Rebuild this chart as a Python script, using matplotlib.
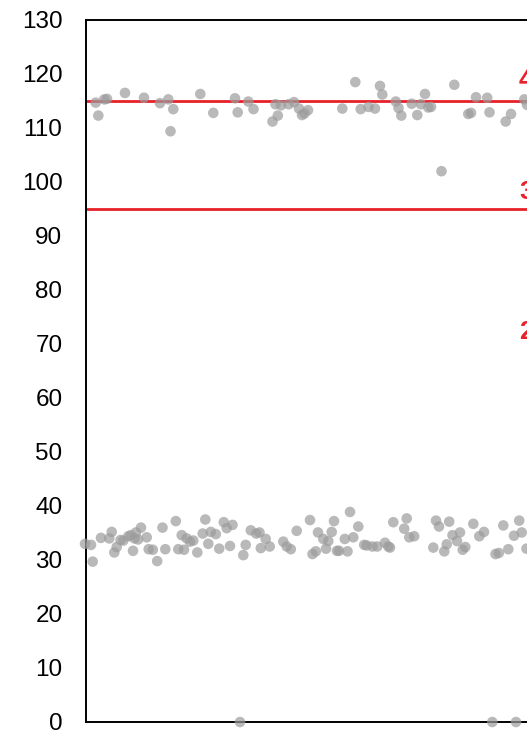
import matplotlib
matplotlib.use('Agg')
import matplotlib.pyplot as plt
import numpy as np

# upper group
upper_x = [9.7, 12.3, 18.3, 21, 39, 58, 74, 82.3, 87.3, 84.5, 114.3, 127.3, 149, 151.7,
           162.3, 167.5, 186.5, 189.5, 191.8, 195, 202.7, 208, 213, 216, 218.5, 222,
           256.3, 269.3, 274.7, 282.5, 289, 294, 296.3, 309.8, 312.5, 315.3, 325.7,
           331.3, 335, 339, 342.3, 345, 355.5, 368.3, 382.3, 385, 390, 401.2, 403.5,
           419.7, 425, 438.3, 441]
upper_y = [114.7, 112.3, 115.3, 115.4, 116.5, 115.6, 114.6, 115.3, 113.5, 109.4, 116.3, 112.8,
           115.5, 112.9, 114.9, 113.5, 111.2, 114.4, 112.3, 114.2, 114.4, 114.8, 113.6, 112.4,
           112.7, 113.3, 113.6, 118.5, 113.5, 113.9, 113.6, 117.8, 116.2, 114.9, 113.7, 112.3,
           114.5, 112.4, 114.4, 116.3, 113.8, 113.9, 102.0, 118.0, 112.6, 112.8, 115.7, 115.6,
           112.9, 111.2, 112.6, 115.3, 114.3]

# lower group
lower_x = [-1, 5, 6.7, 15, 23.3, 25.7, 28.3, 30.7, 34.5, 37.3, 42.3, 44.8, 47, 48.5, 50, 52,
           55, 60.7, 62.7, 66.8, 71.2, 76.5, 79.3, 89.8, 92.3, 95.7, 98, 100.7, 104, 107.3,
           111.3, 116.7, 119.3, 122.3, 124.8, 129.8, 133.2, 137.8, 140.7, 144, 146.5, 154,
           157.3, 159.7, 164.8, 170.3, 173.5, 174.8, 179.7, 183.7, 197.3, 200.7, 204.8,
           210.7, 224, 226.5, 229.8, 232, 237.3, 240, 242.3, 245.7, 248, 251, 253, 258.8,
           261.5, 264, 267.3, 272.3, 278.2, 280.7, 286.5, 291.2, 299, 302.3, 304, 307.3,
           318.2, 320.7, 323.3, 328.2, 347.3, 350, 353, 358.3, 360.7, 363.2, 366.5, 371,
           374, 376.7, 379.3, 387.3, 393.3, 398, 406.3, 409.5, 412.8, 417.3, 422.3, 428,
           430, 433.2, 435.7, 440.5]
lower_y = [33.0, 32.8, 29.7, 34.1, 34.0, 35.2, 31.4, 32.4, 33.7, 33.6, 34.4, 34.6, 31.7, 34.0,
           35.1, 33.8, 36.0, 34.2, 32.0, 31.9, 29.8, 36.0, 32.0, 37.2, 32.0, 34.6, 31.9, 34.0,
           33.4, 33.6, 31.4, 34.9, 37.5, 33.0, 35.2, 34.8, 32.1, 37.0, 35.9, 32.6, 36.5, 0,
           30.9, 32.8, 35.5, 34.9, 35.1, 32.2, 33.9, 32.5, 33.4, 32.5, 32.0, 35.4, 37.4, 31.1,
           31.6, 35.1, 33.9, 32.1, 33.5, 35.2, 37.2, 31.7, 31.7, 33.9, 31.6, 38.9, 34.2, 36.2,
           32.8, 32.7, 32.5, 32.5, 33.2, 32.5, 32.3, 37.0, 35.8, 37.7, 34.2, 34.4, 32.3, 37.3,
           36.2, 31.6, 32.9, 37.1, 34.6, 33.5, 35.1, 31.9, 32.4, 36.7, 34.4, 35.2, 0, 31.1,
           31.3, 36.4, 32.0, 34.5, 0, 37.3, 35.1, 32.1]

limit_lines = [115, 95]
limit_labels = ['4', '3', '2']
limit_label_y = [118.9, 98.1, 72.2]

yticks = list(range(0, 131, 10))

fig = plt.figure(figsize=(5.27, 7.34), dpi=100)
ax = fig.add_axes([86/527, 12/734, 441/527, 702/734])

ax.scatter(upper_x + lower_x, upper_y + lower_y, s=58, color='#9c9c9c', alpha=0.7,
           edgecolors='none', clip_on=False, zorder=3)
for v in limit_lines:
    ax.axhline(v, color='#e8202a', lw=2.0, zorder=2)
for t, v in zip(limit_labels, limit_label_y):
    ax.text(433, v, t, color='#e8202a', fontsize=19, fontweight='bold', va='center',
            ha='left', family='Liberation Sans', clip_on=False)

ax.set_xlim(0, 441)
ax.set_ylim(0, 130)
ax.set_yticks(yticks)
ax.set_xticks([])
ax.tick_params(axis='y', length=0, pad=17, labelsize=17.5)
for lab in ax.get_yticklabels():
    lab.set_family('Liberation Sans')
ax.spines['right'].set_visible(False)
for s in ['left', 'bottom', 'top']:
    ax.spines[s].set_linewidth(1.4)
    ax.spines[s].set_color('black')

fig.savefig('out.png', dpi=100)
